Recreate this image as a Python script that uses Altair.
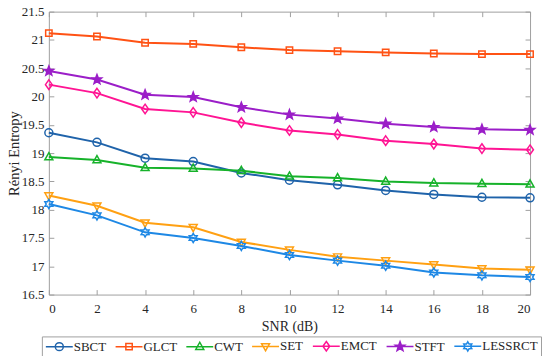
import math
import altair as alt
import pandas as pd

snr = [0, 2, 4, 6, 8, 10, 12, 14, 16, 18, 20]
series = ["SBCT", "GLCT", "CWT", "SET", "EMCT", "STFT", "LESSRCT"]

sbct = [19.36, 19.19, 18.91, 18.85, 18.65, 18.52, 18.44, 18.34, 18.27, 18.22, 18.21]
glct = [21.12, 21.06, 20.95, 20.93, 20.87, 20.82, 20.80, 20.78, 20.76, 20.75, 20.75]
cwt = [18.93, 18.88, 18.74, 18.73, 18.69, 18.59, 18.56, 18.50, 18.47, 18.46, 18.45]
set_ = [18.25, 18.07, 17.77, 17.69, 17.43, 17.29, 17.17, 17.10, 17.03, 16.96, 16.94]
emct = [20.21, 20.06, 19.78, 19.72, 19.54, 19.40, 19.33, 19.22, 19.16, 19.08, 19.06]
stft = [20.45, 20.30, 20.03, 19.99, 19.81, 19.68, 19.61, 19.52, 19.46, 19.42, 19.41]
lessrct = [18.10, 17.90, 17.60, 17.50, 17.36, 17.20, 17.10, 17.01, 16.89, 16.84, 16.81]
values = [sbct, glct, cwt, set_, emct, stft, lessrct]

colors = ["#1F63AA", "#FF5214", "#16B22A", "#FFA012", "#FF1493", "#9B1EC8", "#1E88E5"]
filled = [False, False, False, False, False, True, False]

x_ticks = snr
y_ticks = [16.5, 17, 17.5, 18, 18.5, 19, 19.5, 20, 20.5, 21, 21.5]

rows = []
for name, vals in zip(series, values):
    for s, v in zip(snr, vals):
        rows.append({"snr": s, "entropy": v, "series": name})
df = pd.DataFrame(rows)


# ---- marker shapes (unit paths) ----
def poly(points, k=1.0):
    return "M" + "L".join(f"{px * k:.3f},{py * k:.3f}" for px, py in points) + "Z"


def star_pts(n, r_in):
    pts = []
    for i in range(2 * n):
        r = 1.0 if i % 2 == 0 else r_in
        a = -math.pi / 2 + i * math.pi / n
        pts.append((r * math.cos(a), r * math.sin(a)))
    return pts


def circle(k=1.0):
    return f"M{-k},0A{k},{k} 0 1,1 {k},0A{k},{k} 0 1,1 {-k},0Z"


shape_defs = [
    lambda k: circle(k),
    lambda k: poly([(-0.8, -0.8), (0.8, -0.8), (0.8, 0.8), (-0.8, 0.8)], k),
    lambda k: poly([(0, -1.1), (1.0, 0.7), (-1.0, 0.7)], k),
    lambda k: poly([(0, 1.1), (1.0, -0.7), (-1.0, -0.7)], k),
    lambda k: poly([(0, -1.2), (0.85, 0), (0, 1.2), (-0.85, 0)], k),
    lambda k: poly(star_pts(5, 0.42), k * 1.25),
    lambda k: poly(star_pts(6, 0.58), k * 1.15),
]
point_paths = [f(1.0) for f in shape_defs]
# legend symbol: sqrt(symbolSize)=10 -> 5px per unit; line spans 27px, marker ~8px
legend_paths = ["M-2.7,0L2.7,0" + f(0.8) for f in shape_defs]
legend_fills = [c if fl else "transparent" for c, fl in zip(colors, filled)]

FONT = "Liberation Serif, Times New Roman, DejaVu Serif, serif"
GRAY = "#A0A0A0"
TXT = "#262626"

xscale = alt.Scale(domain=[0, 20], nice=False, zero=False)
yscale = alt.Scale(domain=[16.5, 21.5], nice=False, zero=False)

layers = []

main_axes = alt.Chart(df).mark_point(opacity=0).encode(
    x=alt.X("snr:Q", scale=xscale, axis=alt.Axis(
        values=x_ticks, title="SNR (dB)", domain=False, ticks=False, tickSize=0,
        grid=False, labelFont=FONT, labelFontSize=13, labelColor=TXT, labelPadding=8,
        titleFont=FONT, titleFontSize=14, titleFontWeight="normal", titleColor=TXT,
        titlePadding=4)),
    y=alt.Y("entropy:Q", scale=yscale, axis=alt.Axis(
        values=y_ticks, format=".1~f", title="Rényi Entropy", domain=False, ticks=False,
        tickSize=0, grid=False, labelFont=FONT, labelFontSize=13, labelColor=TXT,
        labelPadding=5, titleFont=FONT, titleFontSize=14.5, titleFontWeight="normal",
        titleColor=TXT, titlePadding=0)),
)
layers.append(main_axes)

for xo, yo in [("bottom", "left"), ("top", "right")]:
    tick_layer = alt.Chart(df).mark_point(opacity=0).encode(
        x=alt.X("snr:Q", scale=xscale, axis=alt.Axis(
            orient=xo, offset=-5, values=x_ticks, domain=False, labels=False, ticks=True,
            tickSize=5, tickColor=GRAY, tickWidth=1, grid=False, title=None)),
        y=alt.Y("entropy:Q", scale=yscale, axis=alt.Axis(
            orient=yo, offset=-5, values=y_ticks, domain=False, labels=False, ticks=True,
            tickSize=5, tickColor=GRAY, tickWidth=1, grid=False, title=None)),
    )
    layers.append(tick_layer)

for name, col, path, fl in zip(series, colors, point_paths, filled):
    sub = df[df["series"] == name]
    line = alt.Chart(sub).mark_line(strokeWidth=2).encode(
        x=alt.X("snr:Q", scale=xscale, axis=None),
        y=alt.Y("entropy:Q", scale=yscale, axis=None),
        color=alt.value(col),
    )
    pts = alt.Chart(sub).mark_point(filled=fl, opacity=1, strokeWidth=1.5).encode(
        x=alt.X("snr:Q", scale=xscale, axis=None),
        y=alt.Y("entropy:Q", scale=yscale, axis=None),
        shape=alt.value(path),
        size=alt.value(64),
        stroke=alt.value(col),
        fill=alt.value(col if fl else "transparent"),
    )
    layers += [line, pts]

# label x = entryOffset(13) + symbolOffset(8) + labelOffset
leg = alt.Legend(
    orient="none", legendX=-7, legendY=326, direction="horizontal", columns=7,
    gridAlign="each", title=None, padding=3, strokeColor=GRAY, fillColor="white",
    labelFont=FONT, labelFontSize=13, labelColor=TXT, labelOffset=8,
    symbolSize=100, symbolOffset=8, symbolStrokeWidth=1.5, symbolOpacity=1,
    columnPadding=6,
)
legend_layer = alt.Chart(pd.DataFrame({"series": series})).mark_point(
    opacity=0, filled=False
).encode(
    shape=alt.Shape("series:N", scale=alt.Scale(domain=series, range=legend_paths), legend=leg),
    stroke=alt.Stroke("series:N", scale=alt.Scale(domain=series, range=colors), legend=leg),
    fill=alt.Fill("series:N", scale=alt.Scale(domain=series, range=legend_fills), legend=leg),
)
layers.append(legend_layer)

chart = alt.layer(*layers).resolve_axis(
    x="independent", y="independent"
).properties(
    width=483, height=284,
    autosize=alt.AutoSizeParams(type="none"),
    padding={"left": 41, "top": 3, "right": 12, "bottom": 61},
    background="white",
).configure_view(stroke=GRAY, strokeWidth=1)

chart.save("out.html", embed_options={"renderer": "svg", "actions": False})
